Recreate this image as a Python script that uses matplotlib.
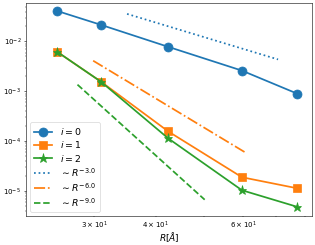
import numpy as np
import matplotlib
matplotlib.use("Agg")
import matplotlib.pyplot as plt

# distances R (Angstrom)
R = [25.3, 31.0, 42.4, 59.7, 77.1]

# values for each i
err_i0 = [0.041, 0.0216, 0.0078, 0.0026, 0.0009]
err_i1 = [0.0062, 0.00156, 1.56e-4, 1.88e-5, 1.13e-5]
err_i2 = [0.0062, 0.00156, 1.13e-4, 1.03e-5, 4.8e-6]

# power-law guide lines: exponent, R range, value at start
ref_exp = [3.0, 6.0, 9.0]
ref_R0 = [35.0, 29.9, 27.8]
ref_R1 = [70.6, 60.5, 50.2]
ref_y0 = [0.0358, 0.00411, 0.00136]

fig = plt.figure(figsize=(6.3, 4.9), dpi=50)
ax = fig.add_axes([0.083, 0.118, 0.907, 0.870])

ax.plot(R, err_i0, 'o-', color='C0', lw=2.5, ms=13, label='$i=0$')
ax.plot(R, err_i1, 's-', color='C1', lw=2.5, ms=12, label='$i=1$')
ax.plot(R, err_i2, '*-', color='C2', lw=2.5, ms=13, label='$i=2$')

styles = [':', '-.', '--']
for k in range(3):
    rr = np.array([ref_R0[k], ref_R1[k]])
    yy = ref_y0[k] * (rr / ref_R0[k]) ** (-ref_exp[k])
    ax.plot(rr, yy, styles[k], color='C%d' % k, lw=2.5,
            label=r'$\sim R^{-%.1f}$' % ref_exp[k])

ax.set_xscale('log')
ax.set_yscale('log')
ax.set_xlim(21.9, 82.6)
ax.set_ylim(10 ** -5.506, 10 ** -1.226)
ax.set_xlabel(r'$R[\AA]$', fontsize=13)
ax.xaxis.set_label_coords(0.5, -0.068)
ax.legend(loc='lower left', fontsize=13.5, labelspacing=0.25,
          borderaxespad=0.4)

fig.savefig('out.png', dpi=50)
